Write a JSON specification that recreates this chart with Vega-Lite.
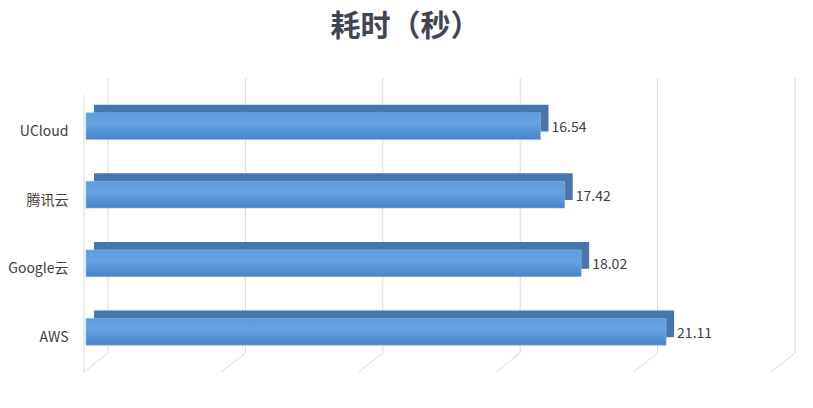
{
  "$schema": "https://vega.github.io/schema/vega-lite/v6.json",
  "autosize": {"type": "none"},
  "width": 687,
  "height": 294,
  "padding": {"left": 86, "top": 78, "right": 40, "bottom": 36},
  "background": "#ffffff",
  "title": {
    "text": "耗时（秒）",
    "font": "Noto Sans CJK SC",
    "fontSize": 30,
    "fontWeight": "bold",
    "color": "#3f4652",
    "anchor": "middle",
    "dx": -24,
    "offset": 36
  },
  "datasets": {
    "times": [
      {"platform": "UCloud", "seconds": 16.54},
      {"platform": "腾讯云", "seconds": 17.42},
      {"platform": "Google云", "seconds": 18.02},
      {"platform": "AWS", "seconds": 21.11}
    ],
    "grid": [
      {"tick": 0}, {"tick": 5}, {"tick": 10}, {"tick": 15}, {"tick": 20}, {"tick": 25}
    ]
  },
  "layer": [
    {
      "data": {"name": "grid"},
      "mark": {"type": "rule", "color": "#d9d9d9", "strokeWidth": 1, "xOffset": 22},
      "encoding": {
        "x": {"field": "tick", "type": "quantitative", "scale": {"domain": [0, 25]}, "axis": null},
        "y": {"datum": 0.065, "type": "quantitative", "scale": {"domain": [0, 1]}, "axis": null},
        "y2": {"datum": 1}
      }
    },
    {
      "data": {"name": "grid"},
      "mark": {"type": "rule", "color": "#d9d9d9", "strokeWidth": 1, "xOffset": -2, "x2Offset": 22},
      "encoding": {
        "x": {"field": "tick", "type": "quantitative", "scale": {"domain": [0, 25]}, "axis": null},
        "x2": {"field": "tick"},
        "y": {"datum": 0, "type": "quantitative", "scale": {"domain": [0, 1]}, "axis": null},
        "y2": {"datum": 0.065}
      }
    },
    {
      "data": {"name": "grid"},
      "transform": [{"filter": "datum.tick == 0"}],
      "mark": {"type": "rule", "color": "#d9d9d9", "strokeWidth": 1, "xOffset": -2},
      "encoding": {
        "x": {"field": "tick", "type": "quantitative", "scale": {"domain": [0, 25]}, "axis": null},
        "y": {"datum": 0, "type": "quantitative", "scale": {"domain": [0, 1]}, "axis": null},
        "y2": {"datum": 0.942}
      }
    },
    {
      "data": {"name": "times"},
      "encoding": {
        "y": {
          "field": "platform",
          "type": "nominal",
          "sort": null,
          "title": null,
          "scale": {"paddingInner": 0.61, "paddingOuter": 0.45},
          "axis": {
            "domain": false,
            "ticks": false,
            "labelFont": "Noto Sans CJK SC",
            "labelFontSize": 14,
            "labelColor": "#404040",
            "labelPadding": 18,
            "labelOffset": 10
          }
        },
        "x": {
          "field": "seconds",
          "type": "quantitative",
          "title": null,
          "scale": {"domain": [0, 25]},
          "axis": {
            "values": [0, 5, 10, 15, 20, 25],
            "format": ".2f",
            "grid": false,
            "domain": false,
            "ticks": false,
            "labelFont": "Noto Sans CJK SC",
            "labelFontSize": 14,
            "labelColor": "#404040",
            "labelPadding": 14
          }
        }
      },
      "layer": [
        {
          "mark": {"type": "bar", "color": "#4876ab", "xOffset": 8, "x2Offset": 8, "yOffset": -4, "y2Offset": -4},
          "encoding": {"x2": {"datum": 0}}
        },
        {
          "mark": {
            "type": "bar",
            "stroke": "#8cbbe8",
            "strokeWidth": 0.6,
            "yOffset": 4,
            "y2Offset": 4,
            "color": {
              "gradient": "linear",
              "x1": 0, "y1": 0, "x2": 0, "y2": 1,
              "stops": [
                {"offset": 0, "color": "#5e9bdc"},
                {"offset": 0.4, "color": "#66a3e3"},
                {"offset": 1, "color": "#4683c9"}
              ]
            }
          },
          "encoding": {"x2": {"datum": 0}}
        },
        {
          "mark": {
            "type": "text",
            "align": "left",
            "dx": 11,
            "dy": 6,
            "font": "Noto Sans CJK SC",
            "fontSize": 14,
            "color": "#404040"
          },
          "encoding": {"text": {"field": "seconds", "type": "quantitative", "format": ".2f"}}
        }
      ]
    }
  ],
  "resolve": {"scale": {"y": "independent"}},
  "config": {"view": {"stroke": null}}
}
